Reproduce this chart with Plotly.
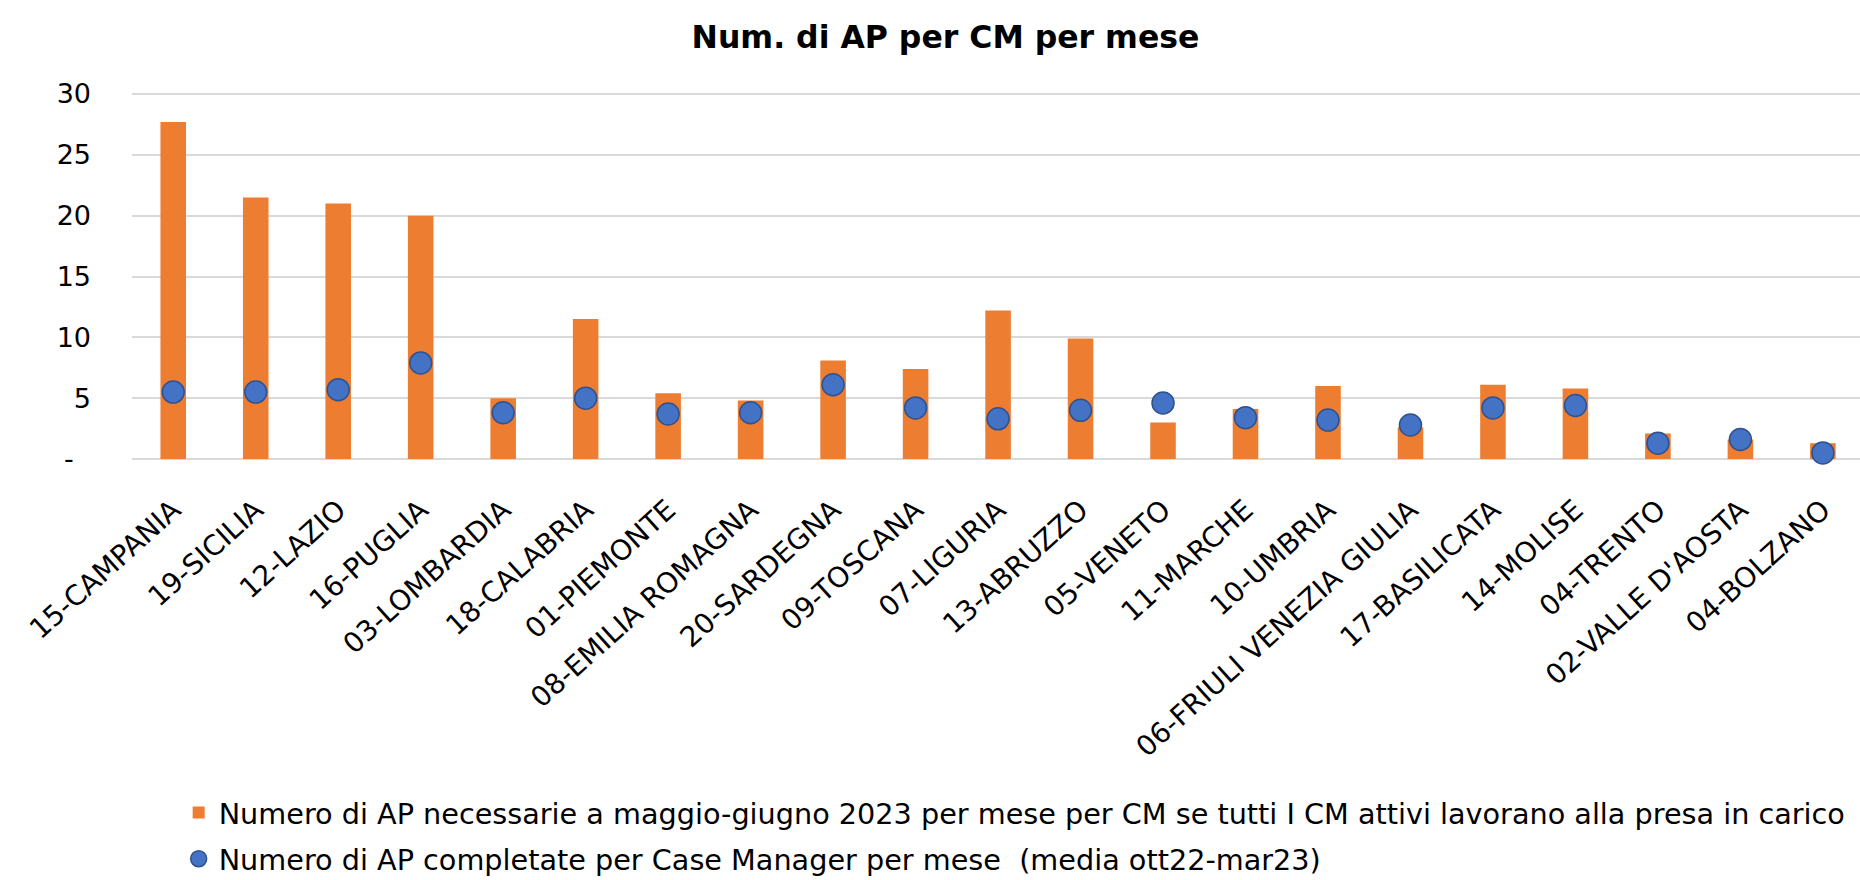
import plotly.graph_objects as go

# ---- data ----
categories = ["15-CAMPANIA", "19-SICILIA", "12-LAZIO", "16-PUGLIA", "03-LOMBARDIA",
              "18-CALABRIA", "01-PIEMONTE", "08-EMILIA ROMAGNA", "20-SARDEGNA",
              "09-TOSCANA", "07-LIGURIA", "13-ABRUZZO", "05-VENETO", "11-MARCHE",
              "10-UMBRIA", "06-FRIULI VENEZIA GIULIA", "17-BASILICATA", "14-MOLISE",
              "04-TRENTO", "02-VALLE D'AOSTA", "04-BOLZANO"]
ap_necessarie = [27.7, 21.5, 21.0, 20.0, 5.0, 11.5, 5.4, 4.8, 8.1, 7.4, 12.2,
                 9.9, 3.0, 4.1, 6.0, 2.6, 6.1, 5.8, 2.1, 1.6, 1.3]
ap_completate = [5.5, 5.5, 5.7, 7.9, 3.8, 5.0, 3.7, 3.8, 6.1, 4.2, 3.3,
                 4.0, 4.6, 3.4, 3.2, 2.8, 4.2, 4.4, 1.3, 1.6, 0.5]
y_tickvals = [0, 5, 10, 15, 20, 25, 30]
y_ticktext = ["-\u00a0\u00a0", "5", "10", "15", "20", "25", "30"]

name_bar = "Numero di AP necessarie a maggio-giugno 2023 per mese per CM se tutti I CM attivi lavorano alla presa in carico"
name_dot = "Numero di AP completate per Case Manager per mese  (media ott22-mar23)"
title_text = "Num. di AP per CM per mese"

FONT = "DejaVu Sans"

fig = go.Figure()
fig.add_trace(go.Bar(
    x=categories, y=ap_necessarie, name=name_bar, legendgroup="a",
    width=0.31, marker=dict(color="#ED7D31", line=dict(width=0)),
))
fig.add_trace(go.Scatter(
    x=categories, y=ap_completate, name=name_dot, legendgroup="b",
    mode="markers", cliponaxis=False,
    marker=dict(size=22, color="#4472C4", line=dict(color="#2F528F", width=1.5)),
))

fig.update_layout(
    width=1860, height=880,
    margin=dict(l=132, r=0, t=91, b=421, autoexpand=False),
    paper_bgcolor="white", plot_bgcolor="white",
    font=dict(family=FONT, color="#000000"),
    title=dict(text="<b>" + title_text + "</b>", x=945.5 / 1860, xanchor="center",
               y=1 - 37 / 880, yanchor="middle", yref="container",
               font=dict(family=FONT, size=31.5, color="#000000")),
    showlegend=True,
    legend=dict(x=0.027, xanchor="left", y=-0.892, yanchor="top",
                font=dict(family=FONT, size=28.7, color="#000000"),
                tracegroupgap=6, bgcolor="rgba(0,0,0,0)"),
    bargap=0.69,
)
fig.update_xaxes(type="category", range=[-0.5, 20.45], tickangle=-42,
                 showgrid=False, showline=False, zeroline=False, ticks="",
                 automargin=False,
                 tickfont=dict(family=FONT, size=28, color="#000000"),
                 ticklabelstandoff=28)
fig.update_yaxes(range=[0, 30.25], tickvals=y_tickvals, ticktext=y_ticktext,
                 showgrid=True, gridcolor="#D9D9D9", gridwidth=1.5,
                 zeroline=True, zerolinecolor="#D9D9D9", zerolinewidth=1.5,
                 showline=False, ticks="", automargin=False,
                 tickfont=dict(family=FONT, size=27, color="#000000"),
                 ticklabelstandoff=40)

fig.write_html("out.html", config={"displayModeBar": False},
               post_script="document.body.style.margin='0';document.body.style.overflow='hidden';")
